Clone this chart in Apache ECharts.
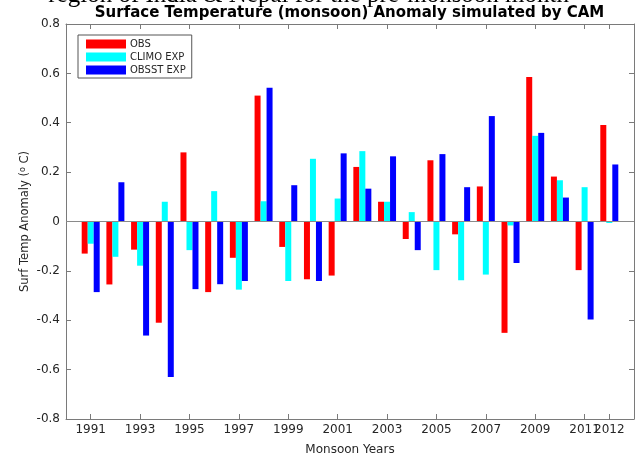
<!DOCTYPE html>
<html>
<head>
<meta charset="utf-8">
<script src="https://cdn.jsdelivr.net/npm/echarts@6/dist/echarts.min.js"></script>
<style>
  html, body { margin: 0; padding: 0; background: #fff; }
  #chart { width: 638px; height: 461px; }
</style>
</head>
<body>
<div id="chart"></div>
<script>
// Monsoon-season surface temperature anomalies (deg C), 1991-2012
const years = [1991, 1992, 1993, 1994, 1995, 1996, 1997, 1998, 1999, 2000, 2001,
               2002, 2003, 2004, 2005, 2006, 2007, 2008, 2009, 2010, 2011, 2012];
const obs    = [-0.13, -0.255, -0.114, -0.41, 0.28, -0.286, -0.147, 0.51, -0.103, -0.234, -0.219,
                0.221, 0.08, -0.071, 0.248, -0.052, 0.142, -0.451, 0.585, 0.182, -0.197, 0.391];
const climo  = [-0.09, -0.143, -0.179, 0.08, -0.116, 0.123, -0.276, 0.082, -0.241, 0.254, 0.093,
                0.285, 0.08, 0.038, -0.197, -0.238, -0.215, -0.016, 0.347, 0.167, 0.139, -0.006];
const obsst  = [-0.286, 0.159, -0.462, -0.63, -0.274, -0.254, -0.241, 0.542, 0.147, -0.241, 0.276,
                0.133, 0.264, -0.116, 0.273, 0.139, 0.427, -0.168, 0.359, 0.097, -0.397, 0.231];
// tick positions along the year axis; the last one sits right next to 2011
const xTicks = [1991, 1993, 1995, 1997, 1999, 2001, 2003, 2005, 2007, 2009, 2011, 2012];
const seriesNames = ['OBS', 'CLIMO EXP', 'OBSST EXP'];
const seriesColors = ['#ff0000', '#00ffff', '#0000ff'];

const FONT = 'DejaVu Sans';
const AXIS_GRAY = '#7a7a7a';
const TEXT = '#262626';

const chart = echarts.init(document.getElementById('chart'), null, { renderer: 'canvas' });

function pairs(vals) { return years.map((y, i) => [y, vals[i]]); }

const values = [obs, climo, obsst];
const series = values.map((vals, k) => ({
  name: seriesNames[k],
  type: 'bar',
  data: pairs(vals),
  barWidth: 6,
  barGap: '0%',
  itemStyle: { color: seriesColors[k] },
  emphasis: { disabled: true },
  animation: false,
  markLine: k === 0 ? {
    silent: true,
    symbol: 'none',
    label: { show: false },
    lineStyle: { color: '#8a8a8a', width: 1, type: 'solid' },
    data: [{ yAxis: 0 }],
    animation: false
  } : undefined
}));

const tickStyle = { show: true, inside: true, length: 5, lineStyle: { color: AXIS_GRAY } };
const frameLine = { show: true, onZero: false, lineStyle: { color: AXIS_GRAY } };
const tickFont = { fontFamily: FONT, fontSize: 12, color: TEXT };

// the final label overlaps its neighbour, so it lives on its own label-only axis
const mainLabels = xTicks.slice(0, -1);
const lastLabel = xTicks.slice(-1);

chart.setOption({
  backgroundColor: '#ffffff',
  animation: false,
  grid: { left: 66, right: 4, top: 24, bottom: 32, containLabel: false },
  legend: {
    orient: 'vertical',
    left: 78,
    top: 35,
    data: seriesNames,
    itemWidth: 40,
    itemHeight: 9,
    itemGap: 3,
    padding: [4, 6, 3, 8],
    borderColor: '#555',
    borderWidth: 1,
    borderRadius: 0,
    backgroundColor: '#fff',
    icon: 'rect',
    selectedMode: false,
    textStyle: { fontFamily: FONT, fontSize: 10, color: TEXT, lineHeight: 10, padding: [0, 0, 0, -1] }
  },
  xAxis: [{
    type: 'value',
    min: 1990,
    max: 2013,
    position: 'bottom',
    name: 'Monsoon Years',
    nameLocation: 'middle',
    nameGap: 25,
    nameMoveOverlap: false,
    nameTextStyle: { fontFamily: FONT, fontSize: 12, color: TEXT },
    axisLine: frameLine,
    axisTick: Object.assign({ customValues: xTicks }, tickStyle),
    axisLabel: Object.assign({ customValues: mainLabels, margin: 5, hideOverlap: false,
                               formatter: v => String(v) }, tickFont),
    splitLine: { show: false }
  }, {
    type: 'value',
    min: 1990,
    max: 2013,
    position: 'top',
    axisLine: frameLine,
    axisTick: Object.assign({ customValues: xTicks }, tickStyle),
    axisLabel: { show: false },
    splitLine: { show: false }
  }, {
    type: 'value',
    min: 1990,
    max: 2013,
    position: 'bottom',
    axisLine: { show: false, onZero: false },
    axisTick: { show: false },
    axisLabel: Object.assign({ customValues: lastLabel, margin: 5, hideOverlap: false,
                               formatter: v => String(v) }, tickFont),
    splitLine: { show: false }
  }],
  yAxis: [{
    type: 'value',
    min: -0.8,
    max: 0.8,
    interval: 0.2,
    position: 'left',
    name: 'Surf Temp Anomaly ({sup|o} C)',
    nameLocation: 'middle',
    nameGap: 34,
    nameMoveOverlap: false,
    nameTextStyle: {
      fontFamily: FONT, fontSize: 11.5, color: TEXT,
      rich: { sup: { fontFamily: FONT, fontSize: 8, color: TEXT, verticalAlign: 'top', padding: [0, 0, 5, 0] } }
    },
    axisLine: frameLine,
    axisTick: tickStyle,
    axisLabel: Object.assign({ margin: 6, formatter: v => String(Math.round(v * 10) / 10) }, tickFont),
    splitLine: { show: false }
  }, {
    type: 'value',
    min: -0.8,
    max: 0.8,
    interval: 0.2,
    position: 'right',
    axisLine: frameLine,
    axisTick: tickStyle,
    axisLabel: { show: false },
    splitLine: { show: false }
  }],
  graphic: [{
    type: 'text',
    x: 569,
    y: 8,
    silent: true,
    style: {
      text: 'region of India & Nepal for the pre-monsoon month',
      font: '25px "Liberation Serif"',
      fill: '#000',
      textAlign: 'right',
      textVerticalAlign: 'bottom'
    }
  }, {
    type: 'text',
    x: 349.5,
    y: 21,
    silent: true,
    style: {
      text: 'Surface Temperature (monsoon) Anomaly simulated by CAM',
      font: 'bold 15px "DejaVu Sans"',
      fill: '#000',
      textAlign: 'center',
      textVerticalAlign: 'bottom'
    }
  }],
  series: series
});
</script>
</body>
</html>
